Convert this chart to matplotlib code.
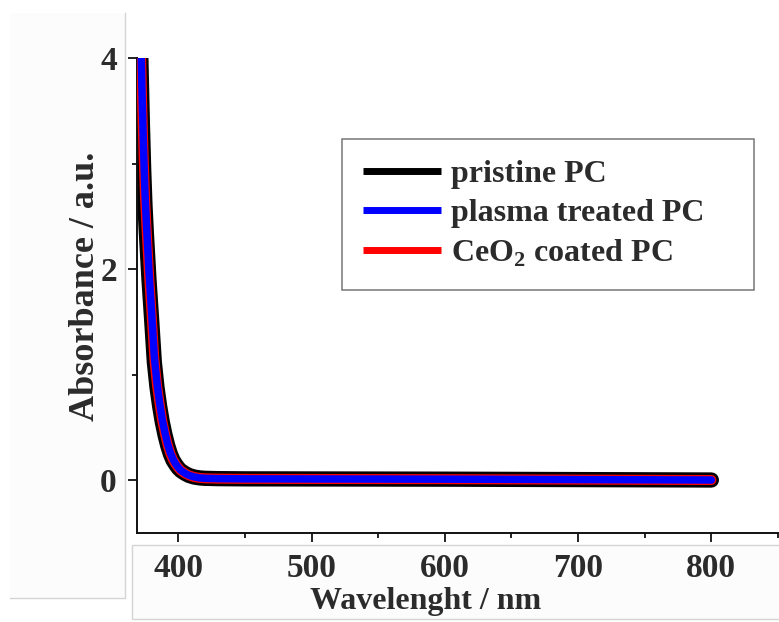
import matplotlib
matplotlib.use("Agg")
import matplotlib.pyplot as plt
from matplotlib.patches import Rectangle
from matplotlib.lines import Line2D
from matplotlib.ticker import MultipleLocator

plt.rcParams['font.family'] = ['Liberation Serif', 'DejaVu Serif']
plt.rcParams['font.weight'] = 'bold'
plt.rcParams['mathtext.fontset'] = 'custom'
plt.rcParams['mathtext.rm'] = 'Liberation Serif:bold'
plt.rcParams['mathtext.bf'] = 'Liberation Serif:bold'

# UV-Vis absorbance spectra
wavelength = [371, 372, 373, 374, 375, 376, 378, 380, 382, 384, 386, 388, 390,
              392, 394, 396, 398, 400, 402, 405, 408, 412, 416, 420, 430, 450,
              500, 550, 600, 650, 700, 750, 800]
pristine = [4.40, 3.95, 3.40, 2.95, 2.60, 2.35, 1.90, 1.52, 1.12, 0.88, 0.70, 0.55,
            0.43, 0.33, 0.25, 0.19, 0.15, 0.115, 0.09, 0.065, 0.045, 0.030, 0.022,
            0.018, 0.015, 0.013, 0.012, 0.011, 0.010, 0.008, 0.006, 0.004, 0.002]
plasma = [4.50, 4.10, 3.55, 3.10, 2.72, 2.45, 1.98, 1.58, 1.17, 0.92, 0.73, 0.57,
          0.45, 0.34, 0.26, 0.20, 0.155, 0.12, 0.092, 0.066, 0.046, 0.031, 0.022,
          0.018, 0.015, 0.013, 0.012, 0.011, 0.010, 0.008, 0.006, 0.004, 0.002]
ceo2 = [4.48, 4.06, 3.50, 3.05, 2.68, 2.42, 1.95, 1.56, 1.15, 0.90, 0.72, 0.56,
        0.44, 0.335, 0.255, 0.195, 0.152, 0.118, 0.091, 0.065, 0.046, 0.030, 0.022,
        0.018, 0.015, 0.013, 0.012, 0.011, 0.010, 0.008, 0.006, 0.004, 0.002]

labels = ['pristine PC', 'plasma treated PC', r'CeO$_\mathbf{2}$ coated PC']
colors = ['black', '#0000ff', '#ff0000']

W, H = 779, 622
fig = plt.figure(figsize=(W / 100, H / 100), dpi=100)
ax = fig.add_axes([137 / W, 1 - 533 / H, 641 / W, 475 / H])

# faint panels behind the axis labels
panel_fc = '#fcfcfc'
panel_ec = '#d4d4d4'
fig.patches.append(Rectangle((10 / W, 1 - 598 / H), 115 / W, 585 / H,
                             transform=fig.transFigure, facecolor=panel_fc,
                             edgecolor='none', zorder=-2))
fig.add_artist(Line2D([125 / W, 125 / W, 10 / W], [1 - 13 / H, 1 - 598 / H, 1 - 598 / H],
                      color=panel_ec, lw=1.0, zorder=-1))
fig.patches.append(Rectangle((132 / W, 1 - 619 / H), 660 / W, 74 / H,
                             transform=fig.transFigure, facecolor=panel_fc,
                             edgecolor=panel_ec, lw=1.0, zorder=-2))

ax.plot(wavelength, pristine, color=colors[0], lw=11, solid_capstyle='round',
        solid_joinstyle='round', zorder=2, label=labels[0])
ax.plot(wavelength, plasma, color=colors[1], lw=5.4, solid_capstyle='round',
        solid_joinstyle='round', zorder=4, label=labels[1])
ax.plot(wavelength, ceo2, color=colors[2], lw=7.2, solid_capstyle='round',
        solid_joinstyle='round', zorder=3, label=labels[2])

ax.set_xlim(369, 850)
ax.set_ylim(-0.5, 4)
ax.xaxis.set_major_locator(MultipleLocator(100))
ax.xaxis.set_minor_locator(MultipleLocator(50))
ax.set_yticks([0, 2, 4])
ax.set_yticks([1, 3], minor=True)

ax.spines['top'].set_visible(False)
ax.spines['right'].set_visible(False)
for s in ['left', 'bottom']:
    ax.spines[s].set_linewidth(1.4)
    ax.spines[s].set_color('#111111')
ax.set_facecolor('none')

txt = '#2b2b2b'
ax.tick_params(which='major', length=6.5, width=1.3, direction='out',
               labelsize=24, pad=8, colors='#111111', labelcolor=txt)
ax.tick_params(which='minor', length=3.5, width=1.3, direction='out',
               colors='#111111')
for lab in ax.get_xticklabels() + ax.get_yticklabels():
    lab.set_fontweight('bold')

fig.text(85 / W, 1 - 286 / H, 'Absorbance / a.u.', rotation=90, ha='center',
         va='center', fontsize=26, fontweight='bold', color=txt)
fig.text(426 / W, 1 - 609 / H, 'Wavelenght / nm', ha='center', va='baseline',
         fontsize=23, fontweight='bold', color=txt)

leg = ax.legend(loc='upper left',
                bbox_to_anchor=(342 / W, 1 - 139 / H - 0.01, 412 / W, 0.01),
                bbox_transform=fig.transFigure, mode='expand', frameon=True,
                fancybox=False, fontsize=23, handlelength=2.45, handletextpad=0.3,
                borderpad=0.65, labelspacing=0.3, borderaxespad=0)
leg.get_frame().set_edgecolor('#555555')
leg.get_frame().set_linewidth(1.1)
for h in leg.get_lines():
    h.set_linewidth(5)
    h.set_solid_capstyle('butt')
for t in leg.get_texts():
    t.set_color(txt)
    t.set_fontweight('bold')

fig.savefig('out.png', dpi=100)
